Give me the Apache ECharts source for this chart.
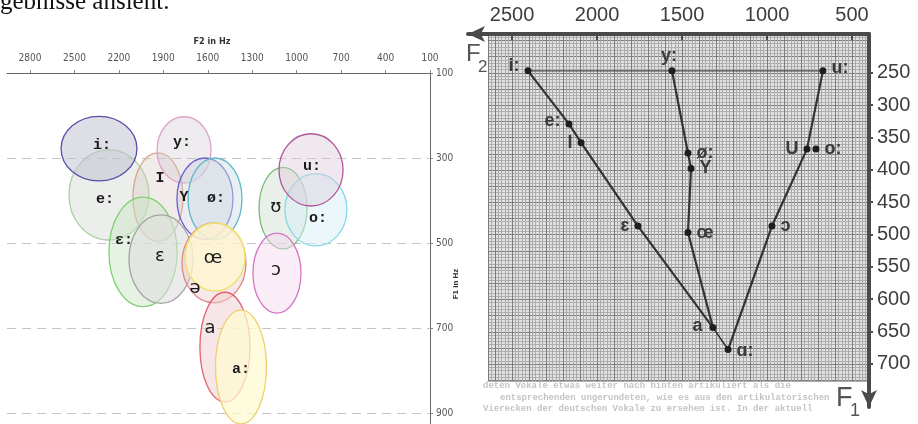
<!DOCTYPE html>
<html><head><meta charset="utf-8">
<script src="https://cdn.jsdelivr.net/npm/echarts@6/dist/echarts.min.js"></script>
<style>html,body{margin:0;padding:0;background:#fff}#c{width:918px;height:424px}</style>
</head><body><div id="c"></div>
<script>
// ---------- Left chart: vowel areas (F2 / F1 in Hz) ----------
const ellipseVowels = ['e:','I','y:','i:','Y','ø:','ʊ','o:','u:','ɛ:','ɛ','ə','œ','ɔ','a','a:'];
const ellipseF2     = [2267,1936,1760,2334,1619,1551,1092, 870, 903,2037,1916,1558,1551,1133,1484,1376];
const ellipseF1     = [ 387, 392, 281, 278, 396, 396, 418, 422, 328, 521, 538, 547, 533, 571, 745, 792];
const spreadF2      = [ 270, 169, 182, 256, 189, 182, 162, 209, 216, 230, 216, 216, 203, 162, 169, 172];
const spreadF1      = [ 106, 104,  78,  76,  96,  96,  96,  85,  85, 129, 104,  94,  80,  94, 129, 134];
const labelF2       = [2294,1923,1774,2314,1761,1545,1140, 856, 897,2166,1923,1686,1565,1140,1585,1376];
const labelF1       = [ 396, 347, 262, 269, 392, 394, 415, 441, 319, 493, 531, 606, 535, 564, 700, 796];
const leftF2Ticks   = [2800,2500,2200,1900,1600,1300,1000,700,400,100];
const leftF1Ticks   = [100,300,500,700,900];

// styles for the left chart
const ellipseStroke = ['#a9d3a0','#d4a78e','#dca3cb','#5a4ea6','#6b5ccc','#62b7c9','#74bb74','#86d9e8','#b0559c','#7fd06f','#a3a3a3','#e08585','#efe067','#d476c4','#e2626f','#efcf6e'];
const ellipseFill   = ['rgba(200,205,200,0.35)','rgba(215,200,195,0.35)','rgba(210,200,210,0.35)','rgba(195,195,210,0.55)','rgba(200,200,215,0.35)','rgba(205,222,228,0.45)','rgba(200,215,200,0.4)','rgba(215,240,246,0.5)','rgba(220,205,220,0.45)','rgba(200,228,195,0.45)','rgba(222,222,222,0.6)','rgba(235,205,205,0.45)','rgba(255,250,205,0.7)','rgba(245,215,240,0.45)','rgba(240,205,208,0.5)','rgba(255,250,210,0.75)'];
const monoLabel     = [true,true,true,true,true,true,false,true,true,true,false,false,false,false,false,true];

// ---------- Right chart: formant points ----------
const pointVowels = ['i:','e:','I','ɛ','a','y:','ø:','Y','œ','u:','U','o:','ɔ','ɑ:'];
const pointF2     = [2406,2165,2094,1759,1318,1559,1465,1447,1465, 671, 765, 712, 971,1229];
const pointF1     = [ 247, 329, 358, 487, 644, 247, 374, 398, 497, 247, 368, 368, 487, 678];
const rightF2Ticks = [2500,2000,1500,1000,500];
const rightF1Ticks = [250,300,350,400,450,500,550,600,650,700];
// line paths through the points (indices into the point arrays)
const frontPath   = [0,1,2,3,4];
const roundPath   = [5,6,7,8,4];
const backPath    = [9,10,12,13];
const openPath    = [4,13];
const topPath     = [0,5,9];

// label placement (style)
const pointLabelSide   = ['left','left','left','left','left','top','right','right','right','right','left','right','right','right'];
const pointLabelOffset = [[0,-5],[0,-3],[0,0],[0,0],[-2,-2],[-3,3],[0,0],[0,0],[0,1],[0,-3],[0,0],[0,0],[0,0],[0,1]];

const narrow = '"Liberation Sans Narrow","DejaVu Sans Condensed","Arial Narrow",sans-serif';
const plain = v => String(v);
const pathData = p => p.map(i => [pointF2[i], pointF1[i]]);
const paperMedY = [];
for (let v = 200; v <= 725; v += 25) paperMedY.push(v);

const chart = echarts.init(document.getElementById('c'), null, {renderer:'canvas'});
const hidden = {axisLine:{show:false}, axisTick:{show:false}, axisLabel:{show:false}};

const option = {
  animation:false,
  backgroundColor:'#ffffff',
  grid:[
    {left:7, right:488, top:73, bottom:0, outerBoundsMode:'none'},
    {left:488, right:49, top:34, bottom:43, show:true, backgroundColor:'#e2e2e2', borderWidth:0, outerBoundsMode:'none'},
    {left:468, right:49, top:34, bottom:17, outerBoundsMode:'none'}
  ],
  xAxis:[
    {gridIndex:0, type:'value', position:'top', inverse:true, min:100, max:2955,
     axisLine:{lineStyle:{color:'#666', width:1}},
     axisTick:{customValues:leftF2Ticks, length:3, lineStyle:{color:'#888'}},
     axisLabel:{customValues:leftF2Ticks, formatter:plain, margin:10, fontSize:10, color:'#555', fontFamily:narrow},
     splitLine:{show:false}},
    Object.assign({gridIndex:1, type:'value', position:'top', inverse:true, min:400, max:2640, interval:20,
     splitLine:{show:true, lineStyle:{color:'#aaaaaa', width:1}}}, hidden),
    Object.assign({gridIndex:1, type:'value', position:'top', inverse:true, min:400, max:2640, interval:100,
     splitLine:{show:true, lineStyle:{color:'#7c7c7c', width:1}}}, hidden),
    {gridIndex:2, type:'value', position:'top', inverse:true, min:400, max:2759,
     axisLine:{lineStyle:{color:'#4a4a4a', width:4}, symbol:['arrow','none'], symbolSize:[12,17]},
     axisTick:{customValues:rightF2Ticks, inside:true, length:6, lineStyle:{color:'#4a4a4a', width:2}},
     axisLabel:{customValues:rightF2Ticks, formatter:plain, margin:9, fontSize:20, color:'#3d3d3d', fontFamily:'"Liberation Sans",sans-serif'},
     splitLine:{show:false}}
  ],
  yAxis:[
    {gridIndex:0, type:'value', position:'right', inverse:true, min:100, max:926,
     axisLine:{lineStyle:{color:'#666', width:1}},
     axisTick:{customValues:leftF1Ticks, length:3, lineStyle:{color:'#888'}},
     axisLabel:{customValues:leftF1Ticks, formatter:plain, margin:6, fontSize:10, color:'#555', fontFamily:narrow},
     splitLine:{show:true, lineStyle:{color:'#c4c4c4', width:1, type:[9,6]}}},
    Object.assign({gridIndex:1, type:'value', position:'right', inverse:true, min:190, max:726, interval:5,
     splitLine:{show:true, lineStyle:{color:'#b0b0b0', width:1}}}, hidden),
    {gridIndex:1, type:'value', position:'right', inverse:true, min:190, max:726,
     axisLine:{show:false}, axisTick:{show:false, customValues:paperMedY}, axisLabel:{show:false},
     splitLine:{show:true, lineStyle:{color:'#7c7c7c', width:1}}},
    {gridIndex:2, type:'value', position:'right', inverse:true, min:190, max:766.8,
     axisLine:{lineStyle:{color:'#4a4a4a', width:4}, symbol:['arrow','none'], symbolSize:[12,17]},
     axisTick:{customValues:rightF1Ticks, length:4, lineStyle:{color:'#4a4a4a', width:2}},
     axisLabel:{customValues:rightF1Ticks, formatter:plain, margin:8, fontSize:20, color:'#3d3d3d', fontFamily:'"Liberation Sans",sans-serif'},
     splitLine:{show:false}}
  ],
  graphic:[
    {type:'text', x:0, y:15, style:{text:'gebnisse ansieht.', fontSize:25, fontFamily:'"Liberation Serif",serif', fill:'#111', verticalAlign:'bottom'}},
    {type:'text', x:212, y:42, style:{text:'F2 in Hz', fontSize:9, fontWeight:'bold', fontFamily:narrow, fill:'#333', align:'center', verticalAlign:'middle'}},
    {type:'text', x:456, y:284, rotation:Math.PI/2, style:{text:'F1 in Hz', fontSize:8, fontWeight:'bold', fontFamily:'"Liberation Sans",sans-serif', fill:'#333', align:'center', verticalAlign:'middle'}},
    {type:'text', x:466, y:66, style:{text:'F', fontSize:24, fontFamily:'"Liberation Sans",sans-serif', fill:'#555', verticalAlign:'bottom'}},
    {type:'text', x:478, y:76, style:{text:'2', fontSize:17, fontFamily:'"Liberation Sans",sans-serif', fill:'#555', verticalAlign:'bottom'}},
    {type:'text', x:836, y:412, style:{text:'F', fontSize:27, fontFamily:'"Liberation Sans",sans-serif', fill:'#555', verticalAlign:'bottom'}},
    {type:'text', x:850, y:420, style:{text:'1', fontSize:18, fontFamily:'"Liberation Sans",sans-serif', fill:'#555', verticalAlign:'bottom'}},
    {type:'text', x:483, y:386, style:{text:'deten Vokale etwas weiter nach hinten artikuliert als die', fontSize:9, fontWeight:'bold', fontFamily:'"Liberation Mono",monospace', fill:'#c4c4c4', verticalAlign:'middle'}},
    {type:'text', x:500, y:398, style:{text:'entsprechenden ungerundeten, wie es aus den artikulatorischen', fontSize:9, fontWeight:'bold', fontFamily:'"Liberation Mono",monospace', fill:'#c4c4c4', verticalAlign:'middle'}},
    {type:'text', x:483, y:409, style:{text:'Vierecken der deutschen Vokale zu ersehen ist. In der aktuell', fontSize:9, fontWeight:'bold', fontFamily:'"Liberation Mono",monospace', fill:'#c4c4c4', verticalAlign:'middle'}}
  ],
  series:[
    {type:'custom', coordinateSystem:'cartesian2d', xAxisIndex:0, yAxisIndex:0, clip:false,
     data: ellipseF2.map((v,i)=>[v, ellipseF1[i], spreadF2[i], spreadF1[i]]),
     encode:{x:0, y:1},
     renderItem:function(params, api){
       const i = params.dataIndex;
       const c = api.coord([api.value(0), api.value(1)]);
       const px = api.coord([api.value(0)+api.value(2), api.value(1)]);
       const py = api.coord([api.value(0), api.value(1)+api.value(3)]);
       return {type:'ellipse', shape:{cx:c[0], cy:c[1], rx:Math.abs(px[0]-c[0]), ry:Math.abs(py[1]-c[1])},
               style:{fill:ellipseFill[i], stroke:ellipseStroke[i], lineWidth:1.3}};
     }},
    {type:'custom', coordinateSystem:'cartesian2d', xAxisIndex:0, yAxisIndex:0, clip:false, z:5,
     data: labelF2.map((v,i)=>[v, labelF1[i]]),
     encode:{x:0, y:1},
     renderItem:function(params, api){
       const i = params.dataIndex;
       const c = api.coord([api.value(0), api.value(1)]);
       const mono = monoLabel[i];
       return {type:'text', x:c[0], y:c[1],
               style:{text:ellipseVowels[i], fill:'#1a1a1a', align:'center', verticalAlign:'middle',
                      fontSize: mono ? 15 : 18, fontWeight: mono ? 'bold' : 'normal',
                      fontFamily: mono ? '"Liberation Mono","DejaVu Sans Mono",monospace' : '"DejaVu Sans",sans-serif'}};
     }},
    {type:'line', xAxisIndex:3, yAxisIndex:3, data:pathData(topPath), symbol:'none', lineStyle:{color:'#4a4a4a', width:1.3}, z:3},
    {type:'line', xAxisIndex:3, yAxisIndex:3, data:pathData(frontPath), symbol:'none', lineStyle:{color:'#333', width:2.2}, z:3},
    {type:'line', xAxisIndex:3, yAxisIndex:3, data:pathData(roundPath), symbol:'none', lineStyle:{color:'#333', width:2.2}, z:3},
    {type:'line', xAxisIndex:3, yAxisIndex:3, data:pathData(backPath), symbol:'none', lineStyle:{color:'#333', width:2.2}, z:3},
    {type:'line', xAxisIndex:3, yAxisIndex:3, data:pathData(openPath), symbol:'none', lineStyle:{color:'#333', width:1.6}, z:3},
    {type:'scatter', xAxisIndex:3, yAxisIndex:3, z:4, symbol:'circle', symbolSize:7,
     itemStyle:{color:'#1e1e1e', opacity:1},
     data: pointF2.map((v,i)=>({value:[v, pointF1[i]], label:{position:pointLabelSide[i], offset:pointLabelOffset[i]}})),
     label:{show:true, distance:5, formatter:p=>pointVowels[p.dataIndex], fontSize:18, fontWeight:'bold',
            color:'#3a3a3a', fontFamily:'"Liberation Sans",sans-serif'}}
  ]
};
chart.setOption(option);
</script></body></html>
